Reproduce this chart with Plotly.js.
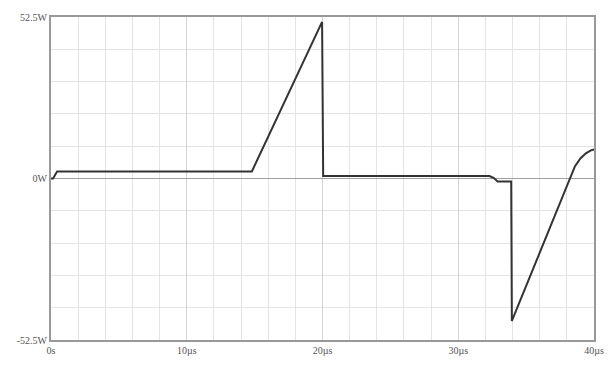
<!DOCTYPE html>
<html>
<head>
<meta charset="utf-8">
<script src="https://cdn.plot.ly/plotly-3.0.1.min.js"></script>
<style>html,body{margin:0;padding:0;background:#fff;}#chart{width:614px;height:371px;}</style>
</head>
<body>
<div id="chart"></div>
<script>
// time in microseconds, power in watts
const timeUs = [0, 0.15, 0.45, 14.8, 19.97, 20.0, 20.05, 32.3, 32.6, 32.9, 33.9, 33.95, 38.2, 38.6, 39.0, 39.4, 39.8, 40];
const powerW = [0, 0, 2.3, 2.3, 50.9, 0.8, 0.8, 0.8, 0.2, -1.0, -1.0, -46.3, 0, 4, 6.5, 8.2, 9.2, 9.4];

const xTickVals = [0, 10, 20, 30, 40];
const xTickText = ['0s', '10µs', '20µs', '30µs', '40µs'];
const yTickVals = [-52.5, 0, 52.5];
const yTickText = ['-52.5W', '0W', '52.5W'];

const tickFont = {family: 'Liberation Serif, serif', size: 10, color: '#555555'};

Plotly.newPlot('chart', [{
  x: timeUs, y: powerW, type: 'scatter', mode: 'lines',
  line: {color: '#333', width: 2}, hoverinfo: 'none'
}], {
  width: 614, height: 371,
  margin: {l: 51, r: 20, t: 17, b: 31, pad: 0},
  paper_bgcolor: '#fff', plot_bgcolor: '#fff',
  showlegend: false,
  xaxis: {
    range: [0, 40], tickmode: 'array', tickvals: xTickVals, ticktext: xTickText,
    showgrid: true, gridcolor: '#d2d2d2', gridwidth: 1,
    minor: {tickmode: 'linear', tick0: 0, dtick: 2, showgrid: true, gridcolor: '#e4e4e4', gridwidth: 1, ticks: ''},
    showline: true, linecolor: '#999', linewidth: 2, mirror: true,
    zeroline: false, ticks: '', tickfont: tickFont, fixedrange: true
  },
  yaxis: {
    range: [-52.5, 52.5], tickmode: 'array', tickvals: yTickVals, ticktext: yTickText,
    showgrid: true, gridcolor: '#e4e4e4', gridwidth: 1,
    minor: {tickmode: 'linear', tick0: 0, dtick: 10.5, showgrid: true, gridcolor: '#e4e4e4', gridwidth: 1, ticks: ''},
    showline: true, linecolor: '#999', linewidth: 2, mirror: true,
    zeroline: true, zerolinecolor: '#a0a0a0', zerolinewidth: 1.5,
    ticks: '', tickfont: tickFont, fixedrange: true
  }
}, {displayModeBar: false, staticPlot: true});
</script>
</body>
</html>
